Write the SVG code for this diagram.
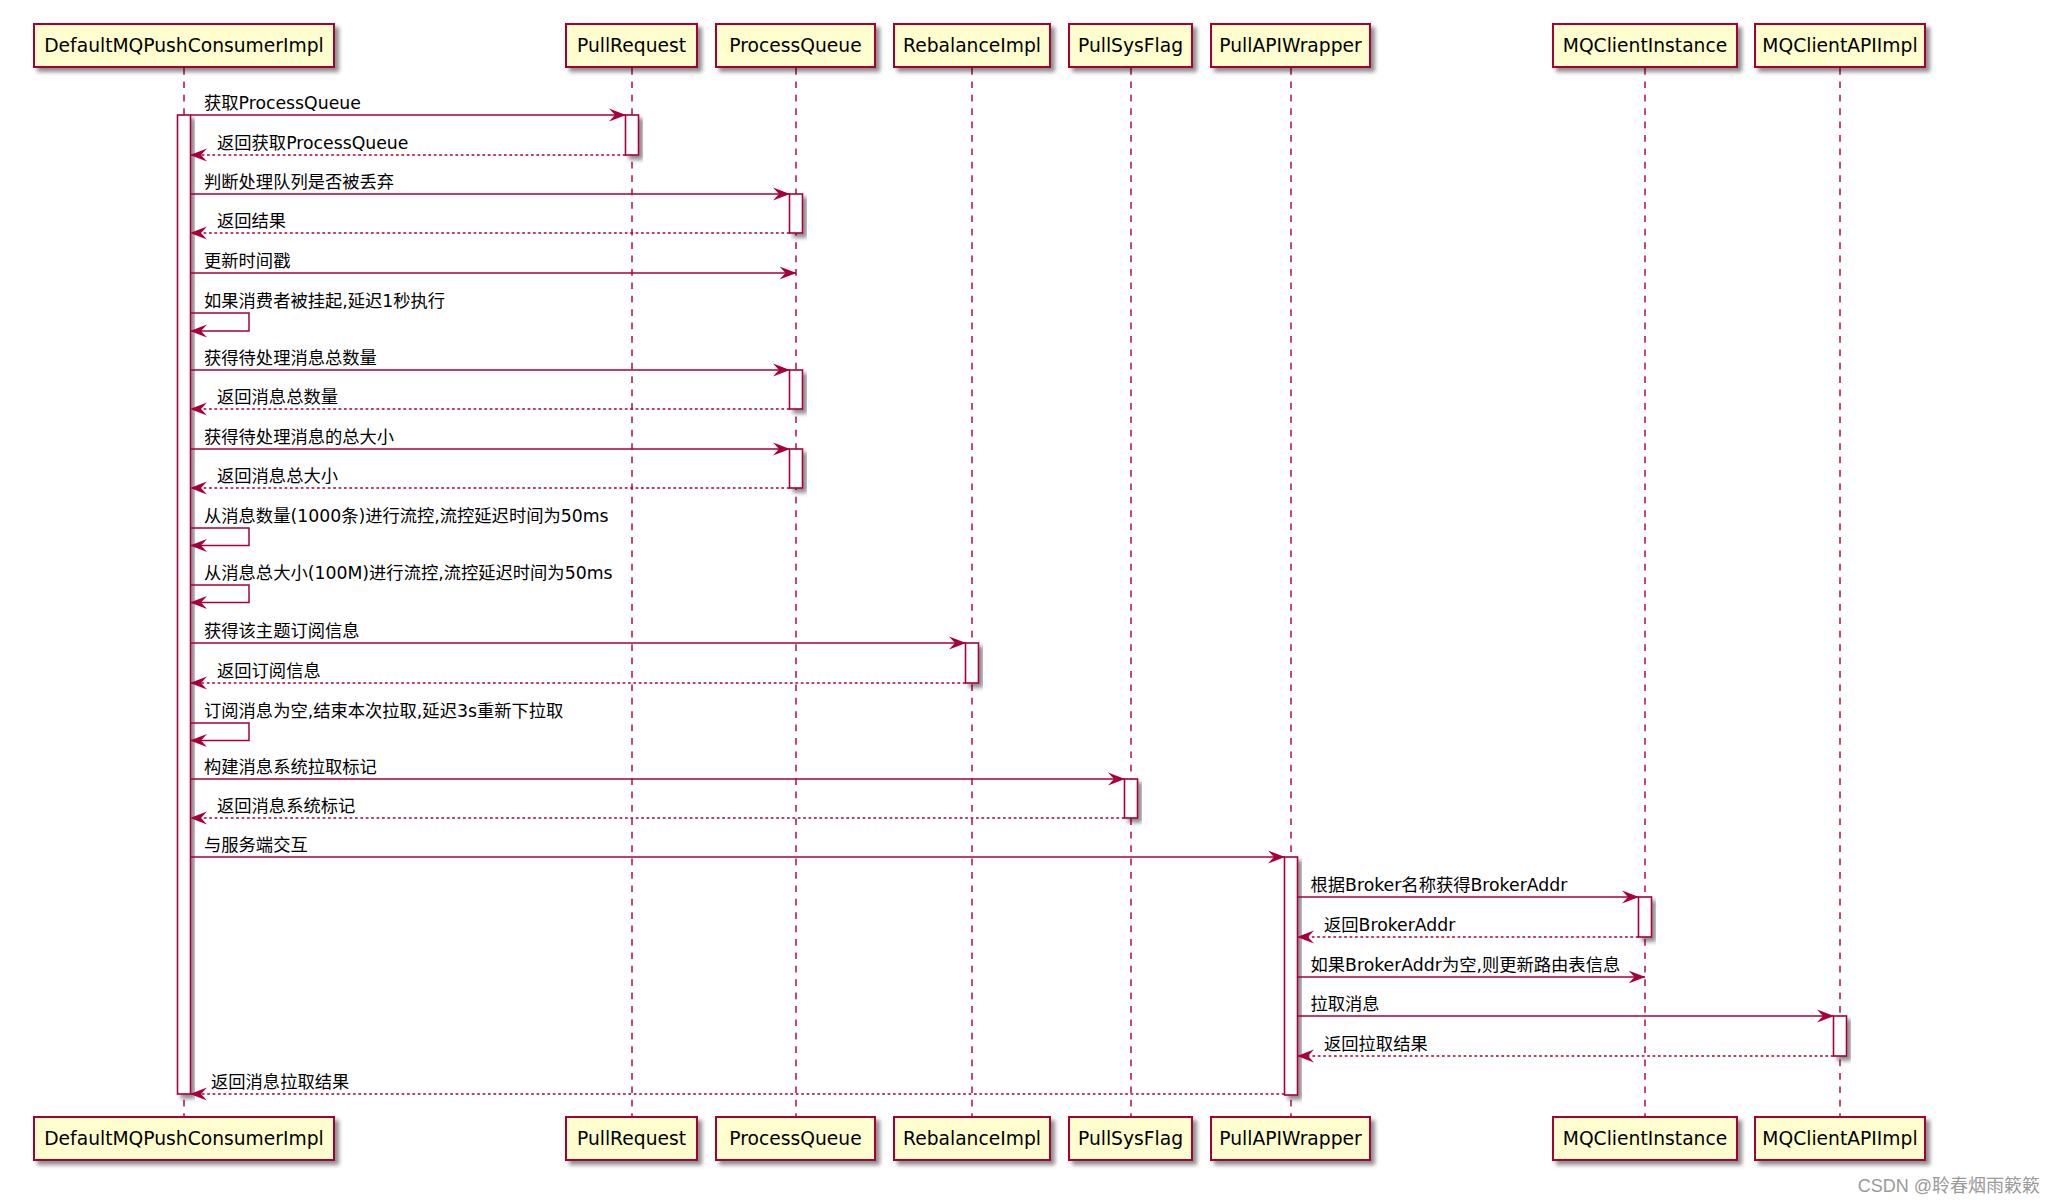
<svg xmlns="http://www.w3.org/2000/svg" width="2056" height="1204" viewBox="0 0 2056 1204">
<defs>
<filter id="sh" x="-20%" y="-20%" width="150%" height="150%">
<feGaussianBlur in="SourceAlpha" stdDeviation="2"/>
<feOffset dx="4" dy="4" result="o"/>
<feComponentTransfer><feFuncA type="linear" slope="0.45"/></feComponentTransfer>
<feMerge><feMergeNode/><feMergeNode in="SourceGraphic"/></feMerge>
</filter>
<marker id="ah" viewBox="0 0 17 14" markerWidth="17" markerHeight="14" refX="16.5" refY="7" orient="auto" markerUnits="userSpaceOnUse">
<path d="M0,0.5 L17,7 L0,13.5 L6,7 Z" fill="#A80036"/>
</marker>
</defs>
<style>
.p{fill:#FEFECE;stroke:#A80036;stroke-width:2;filter:url(#sh)}
.pt{font-family:"DejaVu Sans","Noto Sans CJK SC",sans-serif;font-size:18.7px;fill:#000;text-anchor:middle}
.ll{stroke:#A80036;stroke-width:1.4;stroke-dasharray:6.7,6.7;fill:none}
.act{fill:#fff;stroke:#A80036;stroke-width:1.6;filter:url(#sh)}
.m{stroke:#A80036;stroke-width:1.5;fill:none;marker-end:url(#ah)}
.r{stroke-dasharray:2.7,2.7}
.mt{font-family:"DejaVu Sans","Noto Sans CJK SC",sans-serif;font-size:17.3px;fill:#000}
.wm{font-family:"Liberation Sans","Noto Sans CJK SC",sans-serif;font-size:18px;fill:#9a9a9a;text-anchor:end}
</style>
<rect width="2056" height="1204" fill="#fff"/>

<g id="lifelines">
<line class="ll" x1="184" y1="68" x2="184" y2="1117"/>
<line class="ll" x1="632" y1="68" x2="632" y2="1117"/>
<line class="ll" x1="796" y1="68" x2="796" y2="1117"/>
<line class="ll" x1="972" y1="68" x2="972" y2="1117"/>
<line class="ll" x1="1131" y1="68" x2="1131" y2="1117"/>
<line class="ll" x1="1291" y1="68" x2="1291" y2="1117"/>
<line class="ll" x1="1645" y1="68" x2="1645" y2="1117"/>
<line class="ll" x1="1840" y1="68" x2="1840" y2="1117"/>
</g>

<g id="p-DefaultMQPushConsumerImpl">
<rect class="p" x="34" y="24" width="300" height="43"/><text class="pt" x="184" y="52">DefaultMQPushConsumerImpl</text>
<rect class="p" x="34" y="1117" width="300" height="43"/><text class="pt" x="184" y="1145">DefaultMQPushConsumerImpl</text>
<rect class="act" x="177.5" y="115" width="13" height="979"/>
</g>
<g id="p-PullRequest">
<rect class="p" x="566" y="24" width="131" height="43"/><text class="pt" x="631.5" y="52">PullRequest</text>
<rect class="p" x="566" y="1117" width="131" height="43"/><text class="pt" x="631.5" y="1145">PullRequest</text>
<rect class="act" x="625.5" y="115" width="13" height="40"/>
</g>
<g id="p-ProcessQueue">
<rect class="p" x="716" y="24" width="159" height="43"/><text class="pt" x="795.5" y="52">ProcessQueue</text>
<rect class="p" x="716" y="1117" width="159" height="43"/><text class="pt" x="795.5" y="1145">ProcessQueue</text>
<rect class="act" x="789.5" y="194" width="13" height="39"/>
<rect class="act" x="789.5" y="370" width="13" height="39"/>
<rect class="act" x="789.5" y="449" width="13" height="39"/>
</g>
<g id="p-RebalanceImpl">
<rect class="p" x="894" y="24" width="156" height="43"/><text class="pt" x="972" y="52">RebalanceImpl</text>
<rect class="p" x="894" y="1117" width="156" height="43"/><text class="pt" x="972" y="1145">RebalanceImpl</text>
<rect class="act" x="965.5" y="643" width="13" height="40"/>
</g>
<g id="p-PullSysFlag">
<rect class="p" x="1069" y="24" width="123" height="43"/><text class="pt" x="1130.5" y="52">PullSysFlag</text>
<rect class="p" x="1069" y="1117" width="123" height="43"/><text class="pt" x="1130.5" y="1145">PullSysFlag</text>
<rect class="act" x="1124.5" y="779" width="13" height="39"/>
</g>
<g id="p-PullAPIWrapper">
<rect class="p" x="1211" y="24" width="159" height="43"/><text class="pt" x="1290.5" y="52">PullAPIWrapper</text>
<rect class="p" x="1211" y="1117" width="159" height="43"/><text class="pt" x="1290.5" y="1145">PullAPIWrapper</text>
<rect class="act" x="1284.5" y="857" width="13" height="238"/>
</g>
<g id="p-MQClientInstance">
<rect class="p" x="1553" y="24" width="184" height="43"/><text class="pt" x="1645" y="52">MQClientInstance</text>
<rect class="p" x="1553" y="1117" width="184" height="43"/><text class="pt" x="1645" y="1145">MQClientInstance</text>
<rect class="act" x="1638.5" y="897" width="13" height="40"/>
</g>
<g id="p-MQClientAPIImpl">
<rect class="p" x="1755" y="24" width="170" height="43"/><text class="pt" x="1840" y="52">MQClientAPIImpl</text>
<rect class="p" x="1755" y="1117" width="170" height="43"/><text class="pt" x="1840" y="1145">MQClientAPIImpl</text>
<rect class="act" x="1833.5" y="1016" width="13" height="40"/>
</g>

<g id="connectors">
<line class="m" x1="190.5" y1="115" x2="625.5" y2="115"/>
<line class="m r" x1="625.5" y1="155" x2="190.5" y2="155"/>
<line class="m" x1="190.5" y1="194" x2="789.5" y2="194"/>
<line class="m r" x1="789.5" y1="233" x2="190.5" y2="233"/>
<line class="m" x1="190.5" y1="273" x2="796" y2="273"/>
<polyline class="m" points="190.5,313 249,313 249,331 190.5,331"/>
<line class="m" x1="190.5" y1="370" x2="789.5" y2="370"/>
<line class="m r" x1="789.5" y1="409" x2="190.5" y2="409"/>
<line class="m" x1="190.5" y1="449" x2="789.5" y2="449"/>
<line class="m r" x1="789.5" y1="488" x2="190.5" y2="488"/>
<polyline class="m" points="190.5,528 249,528 249,545.5 190.5,545.5"/>
<polyline class="m" points="190.5,585 249,585 249,602.5 190.5,602.5"/>
<line class="m" x1="190.5" y1="643" x2="965.5" y2="643"/>
<line class="m r" x1="965.5" y1="683" x2="190.5" y2="683"/>
<polyline class="m" points="190.5,723 249,723 249,740.5 190.5,740.5"/>
<line class="m" x1="190.5" y1="779" x2="1124.5" y2="779"/>
<line class="m r" x1="1124.5" y1="818" x2="190.5" y2="818"/>
<line class="m" x1="190.5" y1="857" x2="1284.5" y2="857"/>
<line class="m" x1="1297.5" y1="897" x2="1638.5" y2="897"/>
<line class="m r" x1="1638.5" y1="937" x2="1297.5" y2="937"/>
<line class="m" x1="1297.5" y1="977" x2="1645" y2="977"/>
<line class="m" x1="1297.5" y1="1016" x2="1833.5" y2="1016"/>
<line class="m r" x1="1833.5" y1="1056" x2="1297.5" y2="1056"/>
<line class="m r" x1="1284.5" y1="1094" x2="190.5" y2="1094"/>
</g>

<g id="labels">
<text class="mt" x="204" y="108.5">获取ProcessQueue</text>
<text class="mt" x="217" y="148.5">返回获取ProcessQueue</text>
<text class="mt" x="204" y="187.5">判断处理队列是否被丢弃</text>
<text class="mt" x="217" y="226.5">返回结果</text>
<text class="mt" x="204" y="266.5">更新时间戳</text>
<text class="mt" x="204" y="306.5">如果消费者被挂起,延迟1秒执行</text>
<text class="mt" x="204" y="363.5">获得待处理消息总数量</text>
<text class="mt" x="217" y="402.5">返回消息总数量</text>
<text class="mt" x="204" y="442.5">获得待处理消息的总大小</text>
<text class="mt" x="217" y="481.5">返回消息总大小</text>
<text class="mt" x="204" y="521.5">从消息数量(1000条)进行流控,流控延迟时间为50ms</text>
<text class="mt" x="204" y="578.5">从消息总大小(100M)进行流控,流控延迟时间为50ms</text>
<text class="mt" x="204" y="636.5">获得该主题订阅信息</text>
<text class="mt" x="217" y="676.5">返回订阅信息</text>
<text class="mt" x="204" y="716.5">订阅消息为空,结束本次拉取,延迟3s重新下拉取</text>
<text class="mt" x="204" y="772.5">构建消息系统拉取标记</text>
<text class="mt" x="217" y="811.5">返回消息系统标记</text>
<text class="mt" x="204" y="850.5">与服务端交互</text>
<text class="mt" x="1310.5" y="890.5">根据Broker名称获得BrokerAddr</text>
<text class="mt" x="1324" y="930.5">返回BrokerAddr</text>
<text class="mt" x="1310.5" y="970.5">如果BrokerAddr为空,则更新路由表信息</text>
<text class="mt" x="1310.5" y="1009.5">拉取消息</text>
<text class="mt" x="1324" y="1049.5">返回拉取结果</text>
<text class="mt" x="211" y="1087.5">返回消息拉取结果</text>
</g>

<text class="wm" x="2040" y="1192">CSDN @聆春烟雨簌簌</text>
</svg>
